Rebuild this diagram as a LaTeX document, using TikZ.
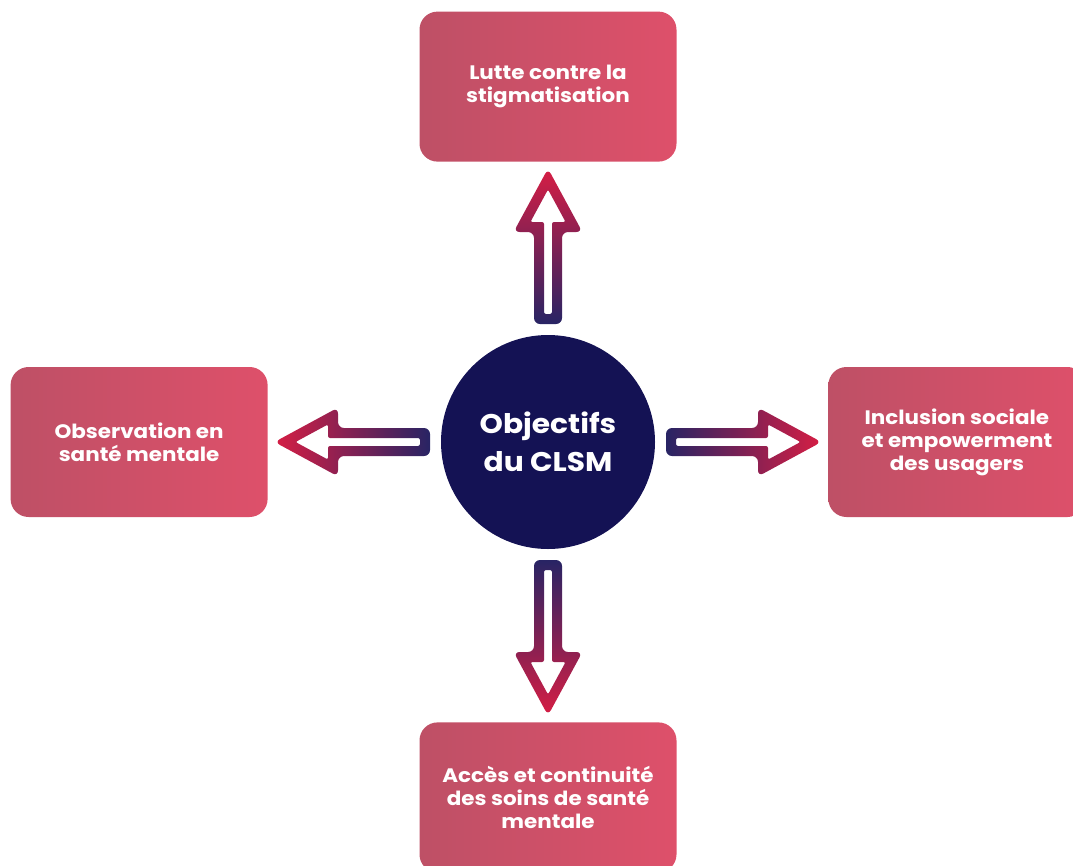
\documentclass[tikz,border=0pt]{standalone}
\usepackage{fontspec}
\setmainfont{Poppins}[FakeStretch=1.1]
\usetikzlibrary{positioning,calc}

\definecolor{boxleft}{RGB}{190,80,102}
\definecolor{boxright}{RGB}{222,80,106}
\definecolor{corenavy}{RGB}{20,18,84}
\definecolor{arrownavy}{RGB}{40,36,100}
\definecolor{arrowplum}{RGB}{130,32,92}
\definecolor{arrowred}{RGB}{214,30,68}

\tikzset{
  pics/hollowarrow/.style={code={
    \shade[even odd rule,left color=arrownavy,middle color=arrowplum,right color=arrowred,shading angle=#1]
      [rounded corners=6pt] (-5,14) -- (87,14) -- (87,34.4) -- (150.5,0) -- (87,-34.4) -- (87,-14) -- (-5,-14) -- cycle
      [rounded corners=2pt] (5,4) -- (97,4) -- (97,17.6) -- (129.5,0) -- (97,-17.6) -- (97,-4) -- (5,-4) -- cycle;
  }}
}

\begin{document}
\begin{tikzpicture}[x=1pt,y=-1pt,
    goal/.style={rectangle,rounded corners=18pt,left color=boxleft,right color=boxright,
      minimum width=257pt,minimum height=150pt,inner sep=0pt,text=white,align=center,
      font=\bfseries\fontsize{19.5}{23}\selectfont},
    node distance=173pt]
  \path[use as bounding box,clip] (0,0) rectangle (1073,865);

  \node[circle,fill=corenavy,minimum size=214pt,inner sep=0pt,text=white,align=center,
    font=\bfseries\fontsize{27}{38}\selectfont] (core) at (548,442) {Objectifs\\du CLSM};

  \node[goal,above=of core] (top) {Lutte contre la\\stigmatisation};
  \node[goal,left=of core] (lft) {Observation en\\santé mentale};
  \node[goal,right=of core] (rgt) {Inclusion sociale\\et empowerment\\des usagers};
  \node[goal,below=of core] (bot) {Accès et continuité\\des soins de santé\\mentale};

  % shading angle: 90 runs left to right, so it is the arrow angle + 90
  \foreach \dest/\ang/\shang in {top/90/180,lft/180/270,rgt/0/90,bot/-90/0}
    \pic[rotate=\ang] at ($(core)!123pt!(\dest)$) {hollowarrow=\shang};
\end{tikzpicture}
\end{document}
